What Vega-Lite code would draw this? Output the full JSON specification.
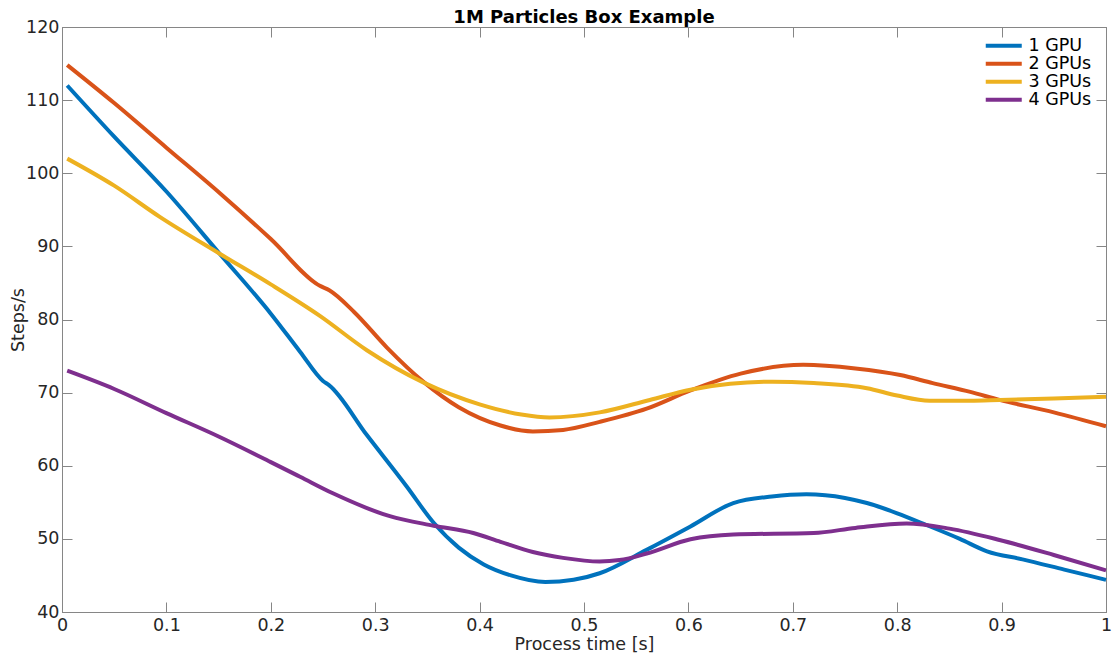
{
  "$schema": "https://vega.github.io/schema/vega-lite/v6.json",
  "autosize": {"type": "none"},
  "width": 1044,
  "height": 585,
  "padding": {"left": 62, "top": 27, "right": 6, "bottom": 42},
  "background": "white",
  "title": {"text": "1M Particles Box Example", "font": "DejaVu Sans", "fontSize": 18, "fontWeight": "bold", "color": "#000000", "anchor": "middle", "offset": -9},
  "config": {
    "view": {"stroke": "#868686", "strokeWidth": 1},
    "font": "DejaVu Sans",
    "axis": {"grid": false, "domainColor": "#868686", "tickColor": "#868686", "labelColor": "#262626", "titleColor": "#262626", "labelFont": "DejaVu Sans", "titleFont": "DejaVu Sans", "labelFontSize": 17.5, "titleFontSize": 17.5, "titleFontWeight": "normal", "tickSize": -10, "labelPadding": 14}
  },
  "data": {"values": [
    {"t": 0.005, "v": 112, "s": "1 GPU"},
    {"t": 0.05, "v": 105, "s": "1 GPU"},
    {"t": 0.1, "v": 97.5, "s": "1 GPU"},
    {"t": 0.151, "v": 89, "s": "1 GPU"},
    {"t": 0.2, "v": 80.8, "s": "1 GPU"},
    {"t": 0.228, "v": 75.6, "s": "1 GPU"},
    {"t": 0.25, "v": 71.6, "s": "1 GPU"},
    {"t": 0.256, "v": 71, "s": "1 GPU"},
    {"t": 0.292, "v": 64.2, "s": "1 GPU"},
    {"t": 0.33, "v": 57.2, "s": "1 GPU"},
    {"t": 0.356, "v": 52.2, "s": "1 GPU"},
    {"t": 0.38, "v": 48.8, "s": "1 GPU"},
    {"t": 0.404, "v": 46.5, "s": "1 GPU"},
    {"t": 0.43, "v": 45, "s": "1 GPU"},
    {"t": 0.463, "v": 44.1, "s": "1 GPU"},
    {"t": 0.49, "v": 44.4, "s": "1 GPU"},
    {"t": 0.515, "v": 45.3, "s": "1 GPU"},
    {"t": 0.56, "v": 48.5, "s": "1 GPU"},
    {"t": 0.602, "v": 51.7, "s": "1 GPU"},
    {"t": 0.643, "v": 54.9, "s": "1 GPU"},
    {"t": 0.68, "v": 55.8, "s": "1 GPU"},
    {"t": 0.713, "v": 56.1, "s": "1 GPU"},
    {"t": 0.75, "v": 55.6, "s": "1 GPU"},
    {"t": 0.771, "v": 54.9, "s": "1 GPU"},
    {"t": 0.8, "v": 53.5, "s": "1 GPU"},
    {"t": 0.828, "v": 51.9, "s": "1 GPU"},
    {"t": 0.86, "v": 50, "s": "1 GPU"},
    {"t": 0.886, "v": 48.3, "s": "1 GPU"},
    {"t": 0.92, "v": 47.2, "s": "1 GPU"},
    {"t": 0.96, "v": 45.8, "s": "1 GPU"},
    {"t": 1.0, "v": 44.4, "s": "1 GPU"},
    {"t": 0.005, "v": 114.8, "s": "2 GPUs"},
    {"t": 0.05, "v": 109.6, "s": "2 GPUs"},
    {"t": 0.1, "v": 103.5, "s": "2 GPUs"},
    {"t": 0.151, "v": 97.3, "s": "2 GPUs"},
    {"t": 0.2, "v": 91, "s": "2 GPUs"},
    {"t": 0.247, "v": 84.6, "s": "2 GPUs"},
    {"t": 0.256, "v": 84, "s": "2 GPUs"},
    {"t": 0.28, "v": 81, "s": "2 GPUs"},
    {"t": 0.311, "v": 76.2, "s": "2 GPUs"},
    {"t": 0.346, "v": 71.5, "s": "2 GPUs"},
    {"t": 0.38, "v": 68, "s": "2 GPUs"},
    {"t": 0.42, "v": 65.5, "s": "2 GPUs"},
    {"t": 0.451, "v": 64.7, "s": "2 GPUs"},
    {"t": 0.48, "v": 64.9, "s": "2 GPUs"},
    {"t": 0.515, "v": 66, "s": "2 GPUs"},
    {"t": 0.56, "v": 67.8, "s": "2 GPUs"},
    {"t": 0.602, "v": 70.3, "s": "2 GPUs"},
    {"t": 0.65, "v": 72.6, "s": "2 GPUs"},
    {"t": 0.71, "v": 73.8, "s": "2 GPUs"},
    {"t": 0.76, "v": 73.3, "s": "2 GPUs"},
    {"t": 0.803, "v": 72.4, "s": "2 GPUs"},
    {"t": 0.834, "v": 71.3, "s": "2 GPUs"},
    {"t": 0.87, "v": 70.1, "s": "2 GPUs"},
    {"t": 0.898, "v": 69, "s": "2 GPUs"},
    {"t": 0.95, "v": 67.3, "s": "2 GPUs"},
    {"t": 1.0, "v": 65.4, "s": "2 GPUs"},
    {"t": 0.005, "v": 102, "s": "3 GPUs"},
    {"t": 0.05, "v": 98.3, "s": "3 GPUs"},
    {"t": 0.094, "v": 94, "s": "3 GPUs"},
    {"t": 0.151, "v": 89, "s": "3 GPUs"},
    {"t": 0.2, "v": 84.8, "s": "3 GPUs"},
    {"t": 0.247, "v": 80.5, "s": "3 GPUs"},
    {"t": 0.292, "v": 75.8, "s": "3 GPUs"},
    {"t": 0.346, "v": 71.4, "s": "3 GPUs"},
    {"t": 0.4, "v": 68.4, "s": "3 GPUs"},
    {"t": 0.44, "v": 67, "s": "3 GPUs"},
    {"t": 0.467, "v": 66.6, "s": "3 GPUs"},
    {"t": 0.515, "v": 67.3, "s": "3 GPUs"},
    {"t": 0.563, "v": 69, "s": "3 GPUs"},
    {"t": 0.602, "v": 70.4, "s": "3 GPUs"},
    {"t": 0.64, "v": 71.2, "s": "3 GPUs"},
    {"t": 0.681, "v": 71.5, "s": "3 GPUs"},
    {"t": 0.72, "v": 71.3, "s": "3 GPUs"},
    {"t": 0.771, "v": 70.6, "s": "3 GPUs"},
    {"t": 0.8, "v": 69.6, "s": "3 GPUs"},
    {"t": 0.831, "v": 68.9, "s": "3 GPUs"},
    {"t": 0.87, "v": 68.9, "s": "3 GPUs"},
    {"t": 0.898, "v": 69, "s": "3 GPUs"},
    {"t": 0.95, "v": 69.2, "s": "3 GPUs"},
    {"t": 1.0, "v": 69.45, "s": "3 GPUs"},
    {"t": 0.005, "v": 73, "s": "4 GPUs"},
    {"t": 0.05, "v": 70.5, "s": "4 GPUs"},
    {"t": 0.1, "v": 67.2, "s": "4 GPUs"},
    {"t": 0.15, "v": 64, "s": "4 GPUs"},
    {"t": 0.2, "v": 60.5, "s": "4 GPUs"},
    {"t": 0.228, "v": 58.5, "s": "4 GPUs"},
    {"t": 0.26, "v": 56.2, "s": "4 GPUs"},
    {"t": 0.314, "v": 53.1, "s": "4 GPUs"},
    {"t": 0.356, "v": 51.8, "s": "4 GPUs"},
    {"t": 0.394, "v": 50.8, "s": "4 GPUs"},
    {"t": 0.42, "v": 49.6, "s": "4 GPUs"},
    {"t": 0.451, "v": 48.2, "s": "4 GPUs"},
    {"t": 0.48, "v": 47.4, "s": "4 GPUs"},
    {"t": 0.515, "v": 46.9, "s": "4 GPUs"},
    {"t": 0.534, "v": 47.1, "s": "4 GPUs"},
    {"t": 0.56, "v": 48, "s": "4 GPUs"},
    {"t": 0.602, "v": 49.95, "s": "4 GPUs"},
    {"t": 0.643, "v": 50.6, "s": "4 GPUs"},
    {"t": 0.72, "v": 50.8, "s": "4 GPUs"},
    {"t": 0.76, "v": 51.5, "s": "4 GPUs"},
    {"t": 0.809, "v": 52.1, "s": "4 GPUs"},
    {"t": 0.85, "v": 51.4, "s": "4 GPUs"},
    {"t": 0.898, "v": 49.85, "s": "4 GPUs"},
    {"t": 0.95, "v": 47.8, "s": "4 GPUs"},
    {"t": 1.0, "v": 45.7, "s": "4 GPUs"}
  ]},
  "layer": [
    {
      "mark": {"type": "line", "strokeWidth": 4, "interpolate": "monotone"},
      "encoding": {
        "x": {"field": "t", "type": "quantitative", "scale": {"domain": [0, 1], "nice": false, "zero": false}, "axis": {"title": "Process time [s]", "values": [0, 0.1, 0.2, 0.3, 0.4, 0.5, 0.6, 0.7, 0.8, 0.9, 1], "format": ".1~f", "labelFlush": false, "labelPadding": 14, "titlePadding": 2}},
        "y": {"field": "v", "type": "quantitative", "scale": {"domain": [40, 120], "nice": false, "zero": false}, "axis": {"title": "Steps/s", "values": [40, 50, 60, 70, 80, 90, 100, 110, 120], "labelPadding": 13, "titlePadding": -2}},
        "color": {"field": "s", "type": "nominal", "scale": {"domain": ["1 GPU", "2 GPUs", "3 GPUs", "4 GPUs"], "range": ["#0072BD", "#D95319", "#EDB120", "#7E2F8E"]},
          "legend": {"title": null, "orient": "none", "legendX": 933, "legendY": 10, "padding": 0, "symbolType": "M-3,0H3", "symbolSize": 144, "symbolStrokeWidth": 4, "symbolFillColor": "transparent", "labelFont": "DejaVu Sans", "labelFontSize": 17.5, "labelColor": "#000000", "rowPadding": -1.7, "labelOffset": 16}}
      }
    },
    {
      "mark": {"type": "line", "opacity": 0},
      "encoding": {
        "x": {"field": "t", "type": "quantitative", "scale": {"domain": [0, 1], "nice": false, "zero": false}, "axis": {"orient": "top", "title": null, "labels": false, "values": [0, 0.1, 0.2, 0.3, 0.4, 0.5, 0.6, 0.7, 0.8, 0.9, 1]}},
        "y": {"field": "v", "type": "quantitative", "scale": {"domain": [40, 120], "nice": false, "zero": false}, "axis": {"orient": "right", "title": null, "labels": false, "values": [40, 50, 60, 70, 80, 90, 100, 110, 120]}},
        "detail": {"field": "s"}
      }
    }
  ],
  "resolve": {"axis": {"x": "independent", "y": "independent"}}
}
